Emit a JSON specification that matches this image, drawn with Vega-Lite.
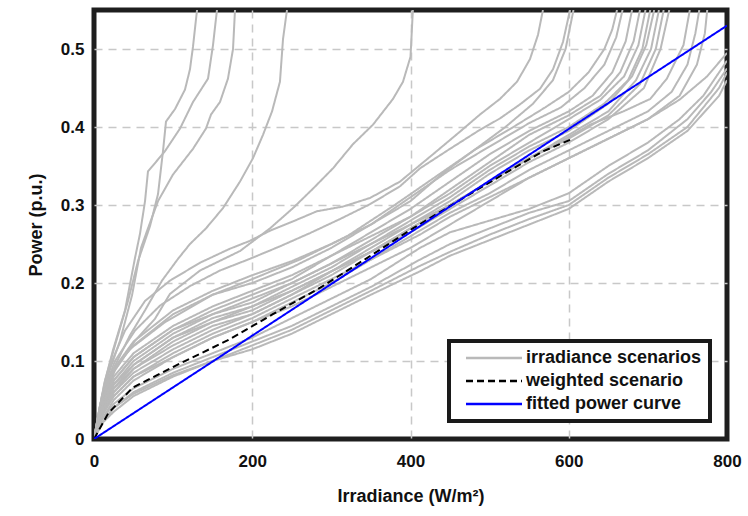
{
  "$schema": "https://vega.github.io/schema/vega-lite/v6.json",
  "width": 633,
  "height": 429,
  "autosize": "none",
  "padding": {"left": 94, "top": 10, "right": 21, "bottom": 77},
  "background": "white",
  "config": {
    "view": {"stroke": "#1e1e1e", "strokeWidth": 5},
    "font": "Liberation Sans",
    "axis": {
      "labelFont": "Liberation Sans",
      "labelFontWeight": "bold",
      "labelFontSize": 17,
      "labelColor": "#111",
      "titleFont": "Liberation Sans",
      "titleFontWeight": "bold",
      "titleFontSize": 18,
      "titleColor": "#111",
      "ticks": false,
      "domain": false,
      "gridDash": [8, 6],
      "gridWidth": 1.5
    }
  },
  "data": {
    "values": [
      {"g":"irradiance scenarios","id":"A","x":0,"y":0},{"g":"irradiance scenarios","id":"A","x":13.9,"y":0.075},{"g":"irradiance scenarios","id":"A","x":26.5,"y":0.12},{"g":"irradiance scenarios","id":"A","x":43,"y":0.177},{"g":"irradiance scenarios","id":"A","x":55.6,"y":0.228},{"g":"irradiance scenarios","id":"A","x":70.8,"y":0.273},{"g":"irradiance scenarios","id":"A","x":80.9,"y":0.314},{"g":"irradiance scenarios","id":"A","x":87.2,"y":0.369},{"g":"irradiance scenarios","id":"A","x":91,"y":0.407},{"g":"irradiance scenarios","id":"A","x":102.4,"y":0.423},{"g":"irradiance scenarios","id":"A","x":115,"y":0.448},{"g":"irradiance scenarios","id":"A","x":121.3,"y":0.474},{"g":"irradiance scenarios","id":"A","x":125.1,"y":0.503},{"g":"irradiance scenarios","id":"A","x":130.2,"y":0.55},
      {"g":"irradiance scenarios","id":"B","x":0,"y":0},{"g":"irradiance scenarios","id":"B","x":12.6,"y":0.069},{"g":"irradiance scenarios","id":"B","x":24,"y":0.114},{"g":"irradiance scenarios","id":"B","x":39.2,"y":0.165},{"g":"irradiance scenarios","id":"B","x":51.8,"y":0.232},{"g":"irradiance scenarios","id":"B","x":58.1,"y":0.263},{"g":"irradiance scenarios","id":"B","x":64.5,"y":0.305},{"g":"irradiance scenarios","id":"B","x":68.2,"y":0.343},{"g":"irradiance scenarios","id":"B","x":89.7,"y":0.369},{"g":"irradiance scenarios","id":"B","x":108.7,"y":0.398},{"g":"irradiance scenarios","id":"B","x":125.1,"y":0.432},{"g":"irradiance scenarios","id":"B","x":144.1,"y":0.462},{"g":"irradiance scenarios","id":"B","x":150.4,"y":0.505},{"g":"irradiance scenarios","id":"B","x":155.4,"y":0.55},
      {"g":"irradiance scenarios","id":"C","x":0,"y":0},{"g":"irradiance scenarios","id":"C","x":17.7,"y":0.082},{"g":"irradiance scenarios","id":"C","x":32.9,"y":0.126},{"g":"irradiance scenarios","id":"C","x":48,"y":0.184},{"g":"irradiance scenarios","id":"C","x":59.4,"y":0.245},{"g":"irradiance scenarios","id":"C","x":68.2,"y":0.27},{"g":"irradiance scenarios","id":"C","x":80.9,"y":0.305},{"g":"irradiance scenarios","id":"C","x":99.8,"y":0.339},{"g":"irradiance scenarios","id":"C","x":125.1,"y":0.372},{"g":"irradiance scenarios","id":"C","x":141.5,"y":0.398},{"g":"irradiance scenarios","id":"C","x":147.9,"y":0.416},{"g":"irradiance scenarios","id":"C","x":159.2,"y":0.432},{"g":"irradiance scenarios","id":"C","x":169.3,"y":0.462},{"g":"irradiance scenarios","id":"C","x":175.7,"y":0.5},{"g":"irradiance scenarios","id":"C","x":178.2,"y":0.55},
      {"g":"irradiance scenarios","id":"D","x":0,"y":0},{"g":"irradiance scenarios","id":"D","x":13.9,"y":0.0625},{"g":"irradiance scenarios","id":"D","x":26.5,"y":0.094},{"g":"irradiance scenarios","id":"D","x":45.5,"y":0.133},{"g":"irradiance scenarios","id":"D","x":64.5,"y":0.165},{"g":"irradiance scenarios","id":"D","x":85.9,"y":0.203},{"g":"irradiance scenarios","id":"D","x":106.2,"y":0.231},{"g":"irradiance scenarios","id":"D","x":121.3,"y":0.25},{"g":"irradiance scenarios","id":"D","x":141.5,"y":0.27},{"g":"irradiance scenarios","id":"D","x":163,"y":0.296},{"g":"irradiance scenarios","id":"D","x":184.5,"y":0.33},{"g":"irradiance scenarios","id":"D","x":200.9,"y":0.36},{"g":"irradiance scenarios","id":"D","x":213.6,"y":0.39},{"g":"irradiance scenarios","id":"D","x":225,"y":0.42},{"g":"irradiance scenarios","id":"D","x":235,"y":0.458},{"g":"irradiance scenarios","id":"D","x":238.9,"y":0.513},{"g":"irradiance scenarios","id":"D","x":243.9,"y":0.55},
      {"g":"irradiance scenarios","id":"E","x":0,"y":0},{"g":"irradiance scenarios","id":"E","x":11.4,"y":0.05},{"g":"irradiance scenarios","id":"E","x":26.5,"y":0.088},{"g":"irradiance scenarios","id":"E","x":51.8,"y":0.126},{"g":"irradiance scenarios","id":"E","x":77,"y":0.154},{"g":"irradiance scenarios","id":"E","x":96,"y":0.186},{"g":"irradiance scenarios","id":"E","x":134,"y":0.216},{"g":"irradiance scenarios","id":"E","x":184.5,"y":0.241},{"g":"irradiance scenarios","id":"E","x":222.4,"y":0.27},{"g":"irradiance scenarios","id":"E","x":251.5,"y":0.296},{"g":"irradiance scenarios","id":"E","x":276.8,"y":0.321},{"g":"irradiance scenarios","id":"E","x":302,"y":0.347},{"g":"irradiance scenarios","id":"E","x":327.3,"y":0.378},{"g":"irradiance scenarios","id":"E","x":352.6,"y":0.403},{"g":"irradiance scenarios","id":"E","x":377.9,"y":0.436},{"g":"irradiance scenarios","id":"E","x":390.5,"y":0.458},{"g":"irradiance scenarios","id":"E","x":400,"y":0.49},{"g":"irradiance scenarios","id":"E","x":403,"y":0.55},
      {"g":"irradiance scenarios","id":"G","x":0,"y":0},{"g":"irradiance scenarios","id":"G","x":7.6,"y":0.043},{"g":"irradiance scenarios","id":"G","x":20.2,"y":0.094},{"g":"irradiance scenarios","id":"G","x":39.2,"y":0.139},{"g":"irradiance scenarios","id":"G","x":64.5,"y":0.177},{"g":"irradiance scenarios","id":"G","x":96,"y":0.203},{"g":"irradiance scenarios","id":"G","x":134,"y":0.226},{"g":"irradiance scenarios","id":"G","x":171.9,"y":0.244},{"g":"irradiance scenarios","id":"G","x":197,"y":0.254},{"g":"irradiance scenarios","id":"G","x":222.4,"y":0.267},{"g":"irradiance scenarios","id":"G","x":251.5,"y":0.279},{"g":"irradiance scenarios","id":"G","x":281.8,"y":0.292},{"g":"irradiance scenarios","id":"G","x":314.7,"y":0.298},{"g":"irradiance scenarios","id":"G","x":348.8,"y":0.309},{"g":"irradiance scenarios","id":"G","x":386.7,"y":0.33},{"g":"irradiance scenarios","id":"G","x":428.4,"y":0.365},{"g":"irradiance scenarios","id":"G","x":462.5,"y":0.394},{"g":"irradiance scenarios","id":"G","x":487.8,"y":0.416},{"g":"irradiance scenarios","id":"G","x":513.1,"y":0.436},{"g":"irradiance scenarios","id":"G","x":534.6,"y":0.458},{"g":"irradiance scenarios","id":"G","x":551,"y":0.487},{"g":"irradiance scenarios","id":"G","x":561.1,"y":0.518},{"g":"irradiance scenarios","id":"G","x":567.4,"y":0.55},
      {"g":"irradiance scenarios","id":"H","x":0,"y":0},{"g":"irradiance scenarios","id":"H","x":10.1,"y":0.056},{"g":"irradiance scenarios","id":"H","x":26.5,"y":0.1},{"g":"irradiance scenarios","id":"H","x":51.8,"y":0.139},{"g":"irradiance scenarios","id":"H","x":83.4,"y":0.171},{"g":"irradiance scenarios","id":"H","x":121.3,"y":0.196},{"g":"irradiance scenarios","id":"H","x":159.2,"y":0.216},{"g":"irradiance scenarios","id":"H","x":197,"y":0.231},{"g":"irradiance scenarios","id":"H","x":235,"y":0.247},{"g":"irradiance scenarios","id":"H","x":273,"y":0.264},{"g":"irradiance scenarios","id":"H","x":310.9,"y":0.282},{"g":"irradiance scenarios","id":"H","x":348.8,"y":0.301},{"g":"irradiance scenarios","id":"H","x":386.7,"y":0.324},{"g":"irradiance scenarios","id":"H","x":412,"y":0.347},{"g":"irradiance scenarios","id":"H","x":449.9,"y":0.372},{"g":"irradiance scenarios","id":"H","x":484,"y":0.394},{"g":"irradiance scenarios","id":"H","x":513.1,"y":0.411},{"g":"irradiance scenarios","id":"H","x":538.4,"y":0.429},{"g":"irradiance scenarios","id":"H","x":563.7,"y":0.449},{"g":"irradiance scenarios","id":"H","x":580.1,"y":0.474},{"g":"irradiance scenarios","id":"H","x":592.7,"y":0.509},{"g":"irradiance scenarios","id":"H","x":601.6,"y":0.55},
      {"g":"irradiance scenarios","id":"H2","x":0,"y":0},{"g":"irradiance scenarios","id":"H2","x":10,"y":0.05},{"g":"irradiance scenarios","id":"H2","x":25,"y":0.09},{"g":"irradiance scenarios","id":"H2","x":50,"y":0.125},{"g":"irradiance scenarios","id":"H2","x":100,"y":0.165},{"g":"irradiance scenarios","id":"H2","x":150,"y":0.19},{"g":"irradiance scenarios","id":"H2","x":200,"y":0.21},{"g":"irradiance scenarios","id":"H2","x":250,"y":0.228},{"g":"irradiance scenarios","id":"H2","x":300,"y":0.25},{"g":"irradiance scenarios","id":"H2","x":350,"y":0.275},{"g":"irradiance scenarios","id":"H2","x":400,"y":0.305},{"g":"irradiance scenarios","id":"H2","x":440,"y":0.34},{"g":"irradiance scenarios","id":"H2","x":480,"y":0.37},{"g":"irradiance scenarios","id":"H2","x":520,"y":0.4},{"g":"irradiance scenarios","id":"H2","x":555,"y":0.43},{"g":"irradiance scenarios","id":"H2","x":580,"y":0.46},{"g":"irradiance scenarios","id":"H2","x":596,"y":0.5},{"g":"irradiance scenarios","id":"H2","x":606,"y":0.55},
      {"g":"irradiance scenarios","id":"D1","x":0,"y":0},{"g":"irradiance scenarios","id":"D1","x":8,"y":0.045},{"g":"irradiance scenarios","id":"D1","x":20,"y":0.08},{"g":"irradiance scenarios","id":"D1","x":45,"y":0.115},{"g":"irradiance scenarios","id":"D1","x":90,"y":0.15},{"g":"irradiance scenarios","id":"D1","x":150,"y":0.185},{"g":"irradiance scenarios","id":"D1","x":200,"y":0.205},{"g":"irradiance scenarios","id":"D1","x":260,"y":0.23},{"g":"irradiance scenarios","id":"D1","x":320,"y":0.26},{"g":"irradiance scenarios","id":"D1","x":380,"y":0.3},{"g":"irradiance scenarios","id":"D1","x":430,"y":0.335},{"g":"irradiance scenarios","id":"D1","x":480,"y":0.37},{"g":"irradiance scenarios","id":"D1","x":530,"y":0.4},{"g":"irradiance scenarios","id":"D1","x":570,"y":0.425},{"g":"irradiance scenarios","id":"D1","x":600,"y":0.445},{"g":"irradiance scenarios","id":"D1","x":625,"y":0.47},{"g":"irradiance scenarios","id":"D1","x":645,"y":0.5},{"g":"irradiance scenarios","id":"D1","x":655,"y":0.525},{"g":"irradiance scenarios","id":"D1","x":661,"y":0.55},
      {"g":"irradiance scenarios","id":"D2","x":0,"y":0},{"g":"irradiance scenarios","id":"D2","x":10,"y":0.05},{"g":"irradiance scenarios","id":"D2","x":25,"y":0.09},{"g":"irradiance scenarios","id":"D2","x":50,"y":0.12},{"g":"irradiance scenarios","id":"D2","x":100,"y":0.16},{"g":"irradiance scenarios","id":"D2","x":150,"y":0.185},{"g":"irradiance scenarios","id":"D2","x":200,"y":0.2},{"g":"irradiance scenarios","id":"D2","x":250,"y":0.22},{"g":"irradiance scenarios","id":"D2","x":300,"y":0.245},{"g":"irradiance scenarios","id":"D2","x":350,"y":0.275},{"g":"irradiance scenarios","id":"D2","x":400,"y":0.31},{"g":"irradiance scenarios","id":"D2","x":450,"y":0.345},{"g":"irradiance scenarios","id":"D2","x":500,"y":0.375},{"g":"irradiance scenarios","id":"D2","x":550,"y":0.405},{"g":"irradiance scenarios","id":"D2","x":590,"y":0.425},{"g":"irradiance scenarios","id":"D2","x":620,"y":0.45},{"g":"irradiance scenarios","id":"D2","x":645,"y":0.48},{"g":"irradiance scenarios","id":"D2","x":660,"y":0.515},{"g":"irradiance scenarios","id":"D2","x":668,"y":0.55},
      {"g":"irradiance scenarios","id":"D3","x":0,"y":0},{"g":"irradiance scenarios","id":"D3","x":10,"y":0.04},{"g":"irradiance scenarios","id":"D3","x":25,"y":0.075},{"g":"irradiance scenarios","id":"D3","x":50,"y":0.105},{"g":"irradiance scenarios","id":"D3","x":100,"y":0.14},{"g":"irradiance scenarios","id":"D3","x":150,"y":0.165},{"g":"irradiance scenarios","id":"D3","x":200,"y":0.185},{"g":"irradiance scenarios","id":"D3","x":250,"y":0.205},{"g":"irradiance scenarios","id":"D3","x":300,"y":0.235},{"g":"irradiance scenarios","id":"D3","x":350,"y":0.265},{"g":"irradiance scenarios","id":"D3","x":400,"y":0.295},{"g":"irradiance scenarios","id":"D3","x":450,"y":0.33},{"g":"irradiance scenarios","id":"D3","x":500,"y":0.365},{"g":"irradiance scenarios","id":"D3","x":550,"y":0.395},{"g":"irradiance scenarios","id":"D3","x":600,"y":0.42},{"g":"irradiance scenarios","id":"D3","x":630,"y":0.44},{"g":"irradiance scenarios","id":"D3","x":655,"y":0.47},{"g":"irradiance scenarios","id":"D3","x":672,"y":0.51},{"g":"irradiance scenarios","id":"D3","x":680,"y":0.55},
      {"g":"irradiance scenarios","id":"D4","x":0,"y":0},{"g":"irradiance scenarios","id":"D4","x":10,"y":0.045},{"g":"irradiance scenarios","id":"D4","x":25,"y":0.08},{"g":"irradiance scenarios","id":"D4","x":50,"y":0.11},{"g":"irradiance scenarios","id":"D4","x":100,"y":0.145},{"g":"irradiance scenarios","id":"D4","x":150,"y":0.17},{"g":"irradiance scenarios","id":"D4","x":200,"y":0.19},{"g":"irradiance scenarios","id":"D4","x":250,"y":0.21},{"g":"irradiance scenarios","id":"D4","x":300,"y":0.235},{"g":"irradiance scenarios","id":"D4","x":350,"y":0.26},{"g":"irradiance scenarios","id":"D4","x":400,"y":0.285},{"g":"irradiance scenarios","id":"D4","x":450,"y":0.32},{"g":"irradiance scenarios","id":"D4","x":500,"y":0.355},{"g":"irradiance scenarios","id":"D4","x":550,"y":0.39},{"g":"irradiance scenarios","id":"D4","x":600,"y":0.415},{"g":"irradiance scenarios","id":"D4","x":640,"y":0.44},{"g":"irradiance scenarios","id":"D4","x":665,"y":0.47},{"g":"irradiance scenarios","id":"D4","x":682,"y":0.51},{"g":"irradiance scenarios","id":"D4","x":690,"y":0.55},
      {"g":"irradiance scenarios","id":"D5","x":0,"y":0},{"g":"irradiance scenarios","id":"D5","x":10,"y":0.035},{"g":"irradiance scenarios","id":"D5","x":25,"y":0.07},{"g":"irradiance scenarios","id":"D5","x":50,"y":0.1},{"g":"irradiance scenarios","id":"D5","x":100,"y":0.135},{"g":"irradiance scenarios","id":"D5","x":150,"y":0.16},{"g":"irradiance scenarios","id":"D5","x":200,"y":0.175},{"g":"irradiance scenarios","id":"D5","x":250,"y":0.2},{"g":"irradiance scenarios","id":"D5","x":300,"y":0.225},{"g":"irradiance scenarios","id":"D5","x":350,"y":0.255},{"g":"irradiance scenarios","id":"D5","x":400,"y":0.285},{"g":"irradiance scenarios","id":"D5","x":450,"y":0.315},{"g":"irradiance scenarios","id":"D5","x":500,"y":0.35},{"g":"irradiance scenarios","id":"D5","x":550,"y":0.38},{"g":"irradiance scenarios","id":"D5","x":600,"y":0.41},{"g":"irradiance scenarios","id":"D5","x":640,"y":0.435},{"g":"irradiance scenarios","id":"D5","x":670,"y":0.465},{"g":"irradiance scenarios","id":"D5","x":688,"y":0.505},{"g":"irradiance scenarios","id":"D5","x":697,"y":0.55},
      {"g":"irradiance scenarios","id":"D6","x":0,"y":0},{"g":"irradiance scenarios","id":"D6","x":10,"y":0.04},{"g":"irradiance scenarios","id":"D6","x":25,"y":0.07},{"g":"irradiance scenarios","id":"D6","x":50,"y":0.095},{"g":"irradiance scenarios","id":"D6","x":100,"y":0.13},{"g":"irradiance scenarios","id":"D6","x":150,"y":0.155},{"g":"irradiance scenarios","id":"D6","x":200,"y":0.17},{"g":"irradiance scenarios","id":"D6","x":250,"y":0.195},{"g":"irradiance scenarios","id":"D6","x":300,"y":0.22},{"g":"irradiance scenarios","id":"D6","x":350,"y":0.25},{"g":"irradiance scenarios","id":"D6","x":400,"y":0.28},{"g":"irradiance scenarios","id":"D6","x":450,"y":0.31},{"g":"irradiance scenarios","id":"D6","x":500,"y":0.345},{"g":"irradiance scenarios","id":"D6","x":550,"y":0.375},{"g":"irradiance scenarios","id":"D6","x":600,"y":0.4},{"g":"irradiance scenarios","id":"D6","x":645,"y":0.43},{"g":"irradiance scenarios","id":"D6","x":675,"y":0.46},{"g":"irradiance scenarios","id":"D6","x":693,"y":0.5},{"g":"irradiance scenarios","id":"D6","x":703,"y":0.55},
      {"g":"irradiance scenarios","id":"D7","x":0,"y":0},{"g":"irradiance scenarios","id":"D7","x":10,"y":0.035},{"g":"irradiance scenarios","id":"D7","x":25,"y":0.065},{"g":"irradiance scenarios","id":"D7","x":50,"y":0.09},{"g":"irradiance scenarios","id":"D7","x":100,"y":0.125},{"g":"irradiance scenarios","id":"D7","x":150,"y":0.15},{"g":"irradiance scenarios","id":"D7","x":200,"y":0.165},{"g":"irradiance scenarios","id":"D7","x":250,"y":0.19},{"g":"irradiance scenarios","id":"D7","x":300,"y":0.215},{"g":"irradiance scenarios","id":"D7","x":350,"y":0.245},{"g":"irradiance scenarios","id":"D7","x":400,"y":0.275},{"g":"irradiance scenarios","id":"D7","x":450,"y":0.305},{"g":"irradiance scenarios","id":"D7","x":500,"y":0.34},{"g":"irradiance scenarios","id":"D7","x":550,"y":0.37},{"g":"irradiance scenarios","id":"D7","x":600,"y":0.395},{"g":"irradiance scenarios","id":"D7","x":650,"y":0.43},{"g":"irradiance scenarios","id":"D7","x":680,"y":0.465},{"g":"irradiance scenarios","id":"D7","x":698,"y":0.505},{"g":"irradiance scenarios","id":"D7","x":708,"y":0.55},
      {"g":"irradiance scenarios","id":"D8","x":0,"y":0},{"g":"irradiance scenarios","id":"D8","x":10,"y":0.04},{"g":"irradiance scenarios","id":"D8","x":25,"y":0.075},{"g":"irradiance scenarios","id":"D8","x":50,"y":0.105},{"g":"irradiance scenarios","id":"D8","x":100,"y":0.14},{"g":"irradiance scenarios","id":"D8","x":150,"y":0.16},{"g":"irradiance scenarios","id":"D8","x":200,"y":0.18},{"g":"irradiance scenarios","id":"D8","x":250,"y":0.2},{"g":"irradiance scenarios","id":"D8","x":300,"y":0.225},{"g":"irradiance scenarios","id":"D8","x":350,"y":0.25},{"g":"irradiance scenarios","id":"D8","x":400,"y":0.275},{"g":"irradiance scenarios","id":"D8","x":450,"y":0.3},{"g":"irradiance scenarios","id":"D8","x":500,"y":0.33},{"g":"irradiance scenarios","id":"D8","x":550,"y":0.36},{"g":"irradiance scenarios","id":"D8","x":600,"y":0.39},{"g":"irradiance scenarios","id":"D8","x":650,"y":0.42},{"g":"irradiance scenarios","id":"D8","x":685,"y":0.46},{"g":"irradiance scenarios","id":"D8","x":704,"y":0.5},{"g":"irradiance scenarios","id":"D8","x":714,"y":0.55},
      {"g":"irradiance scenarios","id":"D9","x":0,"y":0},{"g":"irradiance scenarios","id":"D9","x":10,"y":0.03},{"g":"irradiance scenarios","id":"D9","x":25,"y":0.06},{"g":"irradiance scenarios","id":"D9","x":50,"y":0.09},{"g":"irradiance scenarios","id":"D9","x":100,"y":0.12},{"g":"irradiance scenarios","id":"D9","x":150,"y":0.145},{"g":"irradiance scenarios","id":"D9","x":200,"y":0.16},{"g":"irradiance scenarios","id":"D9","x":250,"y":0.185},{"g":"irradiance scenarios","id":"D9","x":300,"y":0.21},{"g":"irradiance scenarios","id":"D9","x":350,"y":0.24},{"g":"irradiance scenarios","id":"D9","x":400,"y":0.27},{"g":"irradiance scenarios","id":"D9","x":450,"y":0.3},{"g":"irradiance scenarios","id":"D9","x":500,"y":0.33},{"g":"irradiance scenarios","id":"D9","x":550,"y":0.36},{"g":"irradiance scenarios","id":"D9","x":600,"y":0.385},{"g":"irradiance scenarios","id":"D9","x":650,"y":0.415},{"g":"irradiance scenarios","id":"D9","x":690,"y":0.455},{"g":"irradiance scenarios","id":"D9","x":710,"y":0.5},{"g":"irradiance scenarios","id":"D9","x":720,"y":0.55},
      {"g":"irradiance scenarios","id":"D10","x":0,"y":0},{"g":"irradiance scenarios","id":"D10","x":10,"y":0.035},{"g":"irradiance scenarios","id":"D10","x":25,"y":0.065},{"g":"irradiance scenarios","id":"D10","x":50,"y":0.095},{"g":"irradiance scenarios","id":"D10","x":100,"y":0.13},{"g":"irradiance scenarios","id":"D10","x":150,"y":0.15},{"g":"irradiance scenarios","id":"D10","x":200,"y":0.17},{"g":"irradiance scenarios","id":"D10","x":250,"y":0.19},{"g":"irradiance scenarios","id":"D10","x":300,"y":0.215},{"g":"irradiance scenarios","id":"D10","x":350,"y":0.24},{"g":"irradiance scenarios","id":"D10","x":400,"y":0.265},{"g":"irradiance scenarios","id":"D10","x":450,"y":0.295},{"g":"irradiance scenarios","id":"D10","x":500,"y":0.325},{"g":"irradiance scenarios","id":"D10","x":550,"y":0.355},{"g":"irradiance scenarios","id":"D10","x":600,"y":0.38},{"g":"irradiance scenarios","id":"D10","x":650,"y":0.41},{"g":"irradiance scenarios","id":"D10","x":695,"y":0.45},{"g":"irradiance scenarios","id":"D10","x":716,"y":0.5},{"g":"irradiance scenarios","id":"D10","x":727,"y":0.55},
      {"g":"irradiance scenarios","id":"M1","x":0,"y":0},{"g":"irradiance scenarios","id":"M1","x":10,"y":0.03},{"g":"irradiance scenarios","id":"M1","x":25,"y":0.06},{"g":"irradiance scenarios","id":"M1","x":50,"y":0.085},{"g":"irradiance scenarios","id":"M1","x":100,"y":0.115},{"g":"irradiance scenarios","id":"M1","x":150,"y":0.14},{"g":"irradiance scenarios","id":"M1","x":200,"y":0.16},{"g":"irradiance scenarios","id":"M1","x":250,"y":0.185},{"g":"irradiance scenarios","id":"M1","x":300,"y":0.215},{"g":"irradiance scenarios","id":"M1","x":350,"y":0.24},{"g":"irradiance scenarios","id":"M1","x":400,"y":0.27},{"g":"irradiance scenarios","id":"M1","x":450,"y":0.3},{"g":"irradiance scenarios","id":"M1","x":500,"y":0.33},{"g":"irradiance scenarios","id":"M1","x":550,"y":0.36},{"g":"irradiance scenarios","id":"M1","x":589,"y":0.381},{"g":"irradiance scenarios","id":"M1","x":627,"y":0.403},{"g":"irradiance scenarios","id":"M1","x":669,"y":0.42},{"g":"irradiance scenarios","id":"M1","x":703,"y":0.436},{"g":"irradiance scenarios","id":"M1","x":724,"y":0.462},{"g":"irradiance scenarios","id":"M1","x":745,"y":0.505},{"g":"irradiance scenarios","id":"M1","x":753,"y":0.55},
      {"g":"irradiance scenarios","id":"M2","x":0,"y":0},{"g":"irradiance scenarios","id":"M2","x":10,"y":0.03},{"g":"irradiance scenarios","id":"M2","x":25,"y":0.055},{"g":"irradiance scenarios","id":"M2","x":50,"y":0.08},{"g":"irradiance scenarios","id":"M2","x":100,"y":0.11},{"g":"irradiance scenarios","id":"M2","x":150,"y":0.135},{"g":"irradiance scenarios","id":"M2","x":200,"y":0.155},{"g":"irradiance scenarios","id":"M2","x":250,"y":0.18},{"g":"irradiance scenarios","id":"M2","x":300,"y":0.205},{"g":"irradiance scenarios","id":"M2","x":350,"y":0.23},{"g":"irradiance scenarios","id":"M2","x":400,"y":0.26},{"g":"irradiance scenarios","id":"M2","x":450,"y":0.29},{"g":"irradiance scenarios","id":"M2","x":500,"y":0.315},{"g":"irradiance scenarios","id":"M2","x":550,"y":0.345},{"g":"irradiance scenarios","id":"M2","x":600,"y":0.37},{"g":"irradiance scenarios","id":"M2","x":650,"y":0.395},{"g":"irradiance scenarios","id":"M2","x":700,"y":0.42},{"g":"irradiance scenarios","id":"M2","x":730,"y":0.445},{"g":"irradiance scenarios","id":"M2","x":750,"y":0.48},{"g":"irradiance scenarios","id":"M2","x":760,"y":0.52},{"g":"irradiance scenarios","id":"M2","x":765,"y":0.55},
      {"g":"irradiance scenarios","id":"M3","x":0,"y":0},{"g":"irradiance scenarios","id":"M3","x":10,"y":0.025},{"g":"irradiance scenarios","id":"M3","x":25,"y":0.05},{"g":"irradiance scenarios","id":"M3","x":50,"y":0.075},{"g":"irradiance scenarios","id":"M3","x":100,"y":0.105},{"g":"irradiance scenarios","id":"M3","x":150,"y":0.13},{"g":"irradiance scenarios","id":"M3","x":200,"y":0.15},{"g":"irradiance scenarios","id":"M3","x":250,"y":0.17},{"g":"irradiance scenarios","id":"M3","x":300,"y":0.195},{"g":"irradiance scenarios","id":"M3","x":350,"y":0.22},{"g":"irradiance scenarios","id":"M3","x":400,"y":0.245},{"g":"irradiance scenarios","id":"M3","x":450,"y":0.275},{"g":"irradiance scenarios","id":"M3","x":500,"y":0.305},{"g":"irradiance scenarios","id":"M3","x":550,"y":0.335},{"g":"irradiance scenarios","id":"M3","x":600,"y":0.36},{"g":"irradiance scenarios","id":"M3","x":650,"y":0.385},{"g":"irradiance scenarios","id":"M3","x":700,"y":0.41},{"g":"irradiance scenarios","id":"M3","x":740,"y":0.44},{"g":"irradiance scenarios","id":"M3","x":762,"y":0.48},{"g":"irradiance scenarios","id":"M3","x":772,"y":0.52},{"g":"irradiance scenarios","id":"M3","x":775,"y":0.55},
      {"g":"irradiance scenarios","id":"L1","x":0,"y":0},{"g":"irradiance scenarios","id":"L1","x":10,"y":0.03},{"g":"irradiance scenarios","id":"L1","x":25,"y":0.055},{"g":"irradiance scenarios","id":"L1","x":50,"y":0.08},{"g":"irradiance scenarios","id":"L1","x":100,"y":0.105},{"g":"irradiance scenarios","id":"L1","x":150,"y":0.13},{"g":"irradiance scenarios","id":"L1","x":200,"y":0.15},{"g":"irradiance scenarios","id":"L1","x":250,"y":0.175},{"g":"irradiance scenarios","id":"L1","x":300,"y":0.2},{"g":"irradiance scenarios","id":"L1","x":350,"y":0.23},{"g":"irradiance scenarios","id":"L1","x":412,"y":0.262},{"g":"irradiance scenarios","id":"L1","x":450,"y":0.285},{"g":"irradiance scenarios","id":"L1","x":500,"y":0.31},{"g":"irradiance scenarios","id":"L1","x":550,"y":0.335},{"g":"irradiance scenarios","id":"L1","x":600,"y":0.36},{"g":"irradiance scenarios","id":"L1","x":650,"y":0.385},{"g":"irradiance scenarios","id":"L1","x":700,"y":0.41},{"g":"irradiance scenarios","id":"L1","x":740,"y":0.435},{"g":"irradiance scenarios","id":"L1","x":775,"y":0.465},{"g":"irradiance scenarios","id":"L1","x":800,"y":0.495},
      {"g":"irradiance scenarios","id":"L2","x":0,"y":0},{"g":"irradiance scenarios","id":"L2","x":10,"y":0.025},{"g":"irradiance scenarios","id":"L2","x":25,"y":0.045},{"g":"irradiance scenarios","id":"L2","x":50,"y":0.065},{"g":"irradiance scenarios","id":"L2","x":100,"y":0.09},{"g":"irradiance scenarios","id":"L2","x":150,"y":0.11},{"g":"irradiance scenarios","id":"L2","x":200,"y":0.13},{"g":"irradiance scenarios","id":"L2","x":250,"y":0.155},{"g":"irradiance scenarios","id":"L2","x":300,"y":0.18},{"g":"irradiance scenarios","id":"L2","x":350,"y":0.205},{"g":"irradiance scenarios","id":"L2","x":412,"y":0.245},{"g":"irradiance scenarios","id":"L2","x":450,"y":0.265},{"g":"irradiance scenarios","id":"L2","x":500,"y":0.28},{"g":"irradiance scenarios","id":"L2","x":550,"y":0.295},{"g":"irradiance scenarios","id":"L2","x":600,"y":0.315},{"g":"irradiance scenarios","id":"L2","x":650,"y":0.35},{"g":"irradiance scenarios","id":"L2","x":700,"y":0.38},{"g":"irradiance scenarios","id":"L2","x":740,"y":0.41},{"g":"irradiance scenarios","id":"L2","x":770,"y":0.44},{"g":"irradiance scenarios","id":"L2","x":800,"y":0.485},
      {"g":"irradiance scenarios","id":"L3","x":0,"y":0},{"g":"irradiance scenarios","id":"L3","x":10,"y":0.02},{"g":"irradiance scenarios","id":"L3","x":25,"y":0.04},{"g":"irradiance scenarios","id":"L3","x":50,"y":0.06},{"g":"irradiance scenarios","id":"L3","x":100,"y":0.085},{"g":"irradiance scenarios","id":"L3","x":150,"y":0.105},{"g":"irradiance scenarios","id":"L3","x":200,"y":0.125},{"g":"irradiance scenarios","id":"L3","x":250,"y":0.145},{"g":"irradiance scenarios","id":"L3","x":300,"y":0.17},{"g":"irradiance scenarios","id":"L3","x":350,"y":0.195},{"g":"irradiance scenarios","id":"L3","x":412,"y":0.23},{"g":"irradiance scenarios","id":"L3","x":450,"y":0.25},{"g":"irradiance scenarios","id":"L3","x":500,"y":0.27},{"g":"irradiance scenarios","id":"L3","x":550,"y":0.29},{"g":"irradiance scenarios","id":"L3","x":600,"y":0.305},{"g":"irradiance scenarios","id":"L3","x":650,"y":0.34},{"g":"irradiance scenarios","id":"L3","x":700,"y":0.37},{"g":"irradiance scenarios","id":"L3","x":750,"y":0.41},{"g":"irradiance scenarios","id":"L3","x":780,"y":0.445},{"g":"irradiance scenarios","id":"L3","x":800,"y":0.475},
      {"g":"irradiance scenarios","id":"L4","x":0,"y":0},{"g":"irradiance scenarios","id":"L4","x":10,"y":0.02},{"g":"irradiance scenarios","id":"L4","x":25,"y":0.035},{"g":"irradiance scenarios","id":"L4","x":50,"y":0.055},{"g":"irradiance scenarios","id":"L4","x":100,"y":0.08},{"g":"irradiance scenarios","id":"L4","x":150,"y":0.1},{"g":"irradiance scenarios","id":"L4","x":200,"y":0.115},{"g":"irradiance scenarios","id":"L4","x":250,"y":0.135},{"g":"irradiance scenarios","id":"L4","x":300,"y":0.16},{"g":"irradiance scenarios","id":"L4","x":350,"y":0.185},{"g":"irradiance scenarios","id":"L4","x":412,"y":0.215},{"g":"irradiance scenarios","id":"L4","x":450,"y":0.235},{"g":"irradiance scenarios","id":"L4","x":500,"y":0.255},{"g":"irradiance scenarios","id":"L4","x":550,"y":0.275},{"g":"irradiance scenarios","id":"L4","x":600,"y":0.295},{"g":"irradiance scenarios","id":"L4","x":650,"y":0.33},{"g":"irradiance scenarios","id":"L4","x":700,"y":0.36},{"g":"irradiance scenarios","id":"L4","x":750,"y":0.395},{"g":"irradiance scenarios","id":"L4","x":790,"y":0.44},{"g":"irradiance scenarios","id":"L4","x":800,"y":0.46},
      {"g":"irradiance scenarios","id":"L5","x":0,"y":0},{"g":"irradiance scenarios","id":"L5","x":10,"y":0.02},{"g":"irradiance scenarios","id":"L5","x":25,"y":0.04},{"g":"irradiance scenarios","id":"L5","x":50,"y":0.058},{"g":"irradiance scenarios","id":"L5","x":100,"y":0.082},{"g":"irradiance scenarios","id":"L5","x":150,"y":0.1},{"g":"irradiance scenarios","id":"L5","x":200,"y":0.12},{"g":"irradiance scenarios","id":"L5","x":250,"y":0.14},{"g":"irradiance scenarios","id":"L5","x":300,"y":0.165},{"g":"irradiance scenarios","id":"L5","x":350,"y":0.19},{"g":"irradiance scenarios","id":"L5","x":412,"y":0.222},{"g":"irradiance scenarios","id":"L5","x":450,"y":0.24},{"g":"irradiance scenarios","id":"L5","x":500,"y":0.262},{"g":"irradiance scenarios","id":"L5","x":550,"y":0.282},{"g":"irradiance scenarios","id":"L5","x":600,"y":0.3},{"g":"irradiance scenarios","id":"L5","x":650,"y":0.335},{"g":"irradiance scenarios","id":"L5","x":700,"y":0.365},{"g":"irradiance scenarios","id":"L5","x":750,"y":0.4},{"g":"irradiance scenarios","id":"L5","x":790,"y":0.45},{"g":"irradiance scenarios","id":"L5","x":800,"y":0.47},
      {"g":"weighted scenario","id":"W","x":0,"y":0},{"g":"weighted scenario","id":"W","x":18,"y":0.033},{"g":"weighted scenario","id":"W","x":49,"y":0.066},{"g":"weighted scenario","id":"W","x":109,"y":0.097},{"g":"weighted scenario","id":"W","x":168,"y":0.126},{"g":"weighted scenario","id":"W","x":226,"y":0.16},{"g":"weighted scenario","id":"W","x":286,"y":0.194},{"g":"weighted scenario","id":"W","x":345,"y":0.232},{"g":"weighted scenario","id":"W","x":403,"y":0.27},{"g":"weighted scenario","id":"W","x":475,"y":0.314},{"g":"weighted scenario","id":"W","x":530,"y":0.347},{"g":"weighted scenario","id":"W","x":568,"y":0.369},{"g":"weighted scenario","id":"W","x":605,"y":0.385},
      {"g":"fitted power curve","id":"F","x":0,"y":0},{"g":"fitted power curve","id":"F","x":800,"y":0.53}
    ]
  },
  "mark": {"type": "line", "strokeWidth": 2, "clip": true, "strokeCap": "butt"},
  "encoding": {
    "x": {
      "field": "x", "type": "quantitative",
      "scale": {"domain": [0, 800], "nice": false},
      "axis": {
        "values": [0, 200, 400, 600, 800], "labelPadding": 14, "title": "Irradiance (W/m²)", "titlePadding": 18, "labelFlush": false,
        "gridColor": {"condition": {"test": "datum.value === 0 || datum.value === 800", "value": "transparent"}, "value": "#c8c8c8"}
      }
    },
    "y": {
      "field": "y", "type": "quantitative",
      "scale": {"domain": [0, 0.55], "nice": false},
      "axis": {
        "values": [0, 0.1, 0.2, 0.3, 0.4, 0.5], "format": "~g", "labelPadding": 10, "title": "Power (p.u.)", "titlePadding": 15, "labelFlush": false,
        "gridColor": {"condition": {"test": "datum.value === 0", "value": "transparent"}, "value": "#c8c8c8"}
      }
    },
    "color": {
      "field": "g", "type": "nominal",
      "scale": {"domain": ["irradiance scenarios", "weighted scenario", "fitted power curve"], "range": ["#b9b9b9", "#000000", "#0000ff"]},
      "legend": {
        "orient": "none", "legendX": 355, "legendY": 331, "title": null,
        "strokeColor": "#1a1a1a", "fillColor": "white", "padding": 8,
        "labelFont": "Liberation Sans", "labelFontWeight": "bold", "labelFontSize": 18, "labelColor": "#111", "labelLimit": 400,
        "symbolType": "M0,0H8", "symbolSize": 196, "symbolStrokeWidth": 2.5, "rowPadding": 5, "labelOffset": 51,
        "encode": {"legend": {"update": {"strokeWidth": {"value": 4}}}}
      }
    },
    "strokeDash": {
      "field": "g", "type": "nominal",
      "scale": {"domain": ["irradiance scenarios", "weighted scenario", "fitted power curve"], "range": [[1, 0], [7, 4], [1, 0]]}
    },
    "detail": {"field": "id", "type": "nominal"}
  }
}
